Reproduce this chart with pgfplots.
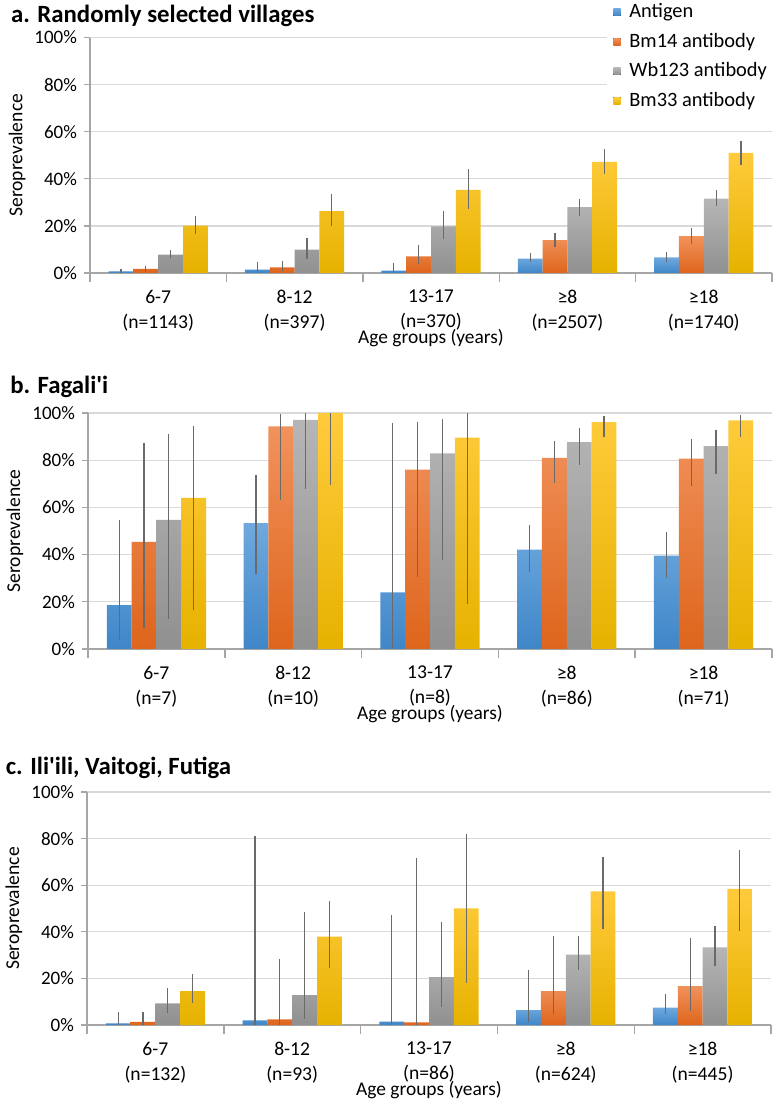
\documentclass[border=0pt]{standalone}
\usepackage{fontspec}
\setmainfont{Carlito}
\usepackage{pgfplots}
\usepackage{pgfplotstable}
\pgfplotsset{compat=1.18}

\definecolor{agT}{HTML}{6FA9DE}
\definecolor{agB}{HTML}{3F86C8}
\definecolor{bmT}{HTML}{F1925C}
\definecolor{bmB}{HTML}{DE651C}
\definecolor{wbT}{HTML}{B6B6B6}
\definecolor{wbB}{HTML}{909090}
\definecolor{btT}{HTML}{FFCB3C}
\definecolor{btB}{HTML}{E6B200}
\definecolor{ebc}{HTML}{6A6A6A}
\definecolor{gridc}{HTML}{D9D9D9}
\definecolor{axc}{HTML}{A6A6A6}

% panel a
\pgfplotstableread{
x ag agp agm bm bmp bmm wb wbp wbm bt btp btm
0 0.7 1.0 0.7 1.7 1.1 1.4 7.8 1.8 1.4 20.1 4.2 3.4
1 1.4 3.3 1.4 2.4 2.8 1.7 9.9 5.1 3.8 26.3 7.3 6.5
2 1.0 3.2 1.0 7.1 4.8 3.1 19.8 6.5 5.4 35.3 8.9 8.0
3 6.1 2.4 1.6 14.0 3.2 3.0 28.0 3.4 3.7 47.2 5.5 5.1
4 6.6 2.3 1.8 15.7 3.5 3.3 31.6 3.7 3.2 51.0 5.1 5.1
}\tabA
% panel b
\pgfplotstableread{
x ag agp agm bm bmp bmm wb wbp wbm bt btp btm
0 18.6 36.0 14.6 45.4 42.0 36.4 54.7 36.4 42.1 64.0 30.3 47.3
1 53.3 20.4 21.4 94.3 5.3 31.3 97.1 2.9 29.5 100.0 0.0 30.6
2 24.0 71.6 24.0 76.0 20.0 45.7 82.9 14.7 45.0 89.6 10.4 70.6
3 42.1 10.3 9.5 81.0 7.3 10.7 87.7 5.9 9.8 96.1 2.5 6.1
4 39.6 10.1 9.6 80.7 8.2 11.7 86.0 7.0 11.7 96.9 2.2 7.0
}\tabB
% panel c
\pgfplotstableread{
x ag agp agm bm bmp bmm wb wbp wbm bt btp btm
0 0.7 5.0 0.7 1.3 4.4 1.3 9.3 6.4 4.0 14.5 7.2 5.2
1 2.0 79.2 2.0 2.4 25.8 2.4 12.8 35.9 10.4 37.9 15.5 13.5
2 1.4 45.9 1.4 1.1 70.7 1.1 20.5 23.5 12.7 50.0 32.1 31.9
3 6.4 17.1 5.0 14.5 23.7 9.8 30.2 8.0 6.8 57.3 14.6 16.3
4 7.5 6.0 2.9 16.7 20.8 10.6 33.3 9.4 8.1 58.4 16.7 17.9
}\tabC

\pgfplotsset{
  panel/.style={
    scale only axis, width=340.5pt, height=117pt,
    ybar, bar width=12.4pt,
    xmin=-0.5, xmax=4.5, ymin=0, ymax=100,
    xtick={0,1,2,3,4},
    ytick={0,20,40,60,80,100},
    yticklabels={0\%,20\%,40\%,60\%,80\%,100\%},
    axis x line*=bottom, axis y line*=left,
    ymajorgrids, grid style={gridc, line width=0.6pt},
    axis line style={axc, line width=0.7pt},
    tick align=outside, major tick length=3pt,
    major x tick style={draw=none},
    major y tick style={draw=axc, line width=0.6pt},
    extra x ticks={-0.5,0.5,1.5,2.5,3.5,4.5},
    extra x tick labels={},
    extra x tick style={major x tick style={draw=axc, line width=0.7pt}, major tick length=4.5pt},
    xticklabel style={align=center, font=\fontsize{9.8}{12.5}\selectfont, yshift=-2pt},
    yticklabel style={font=\fontsize{9.5}{11}\selectfont},
    xlabel={Age groups (years)},
    xlabel style={at={(axis description cs:0.5,0)}, anchor=center, yshift=-32.5pt, font=\fontsize{9.7}{11}\selectfont},
    ylabel={Seroprevalence},
    ylabel style={at={(axis description cs:-0.107,0.5)}, anchor=center, font=\fontsize{9.8}{11}\selectfont},
    title style={anchor=west, yshift=-7.5pt, font=\bfseries\fontsize{12.4}{14}\selectfont},
    legend image code/.code={\fill[#1] (0pt,-1.8pt) rectangle (3.6pt,1.8pt); \path (6pt,0pt);},
  },
  errb/.style={draw=none, fill=none, forget plot,
    error bars/.cd, y dir=both, y explicit, error mark=none,
    error bar style={draw=ebc, line width=0.6pt}},
}

\newcommand\allbars[1]{%
  \addplot[bar shift=-18.6pt, draw=none, top color=agT, bottom color=agB] table[x=x,y=ag]{#1};
  \addplot[bar shift=-6.2pt, draw=none, top color=bmT, bottom color=bmB] table[x=x,y=bm]{#1};
  \addplot[bar shift=6.2pt, draw=none, top color=wbT, bottom color=wbB] table[x=x,y=wb]{#1};
  \addplot[bar shift=18.6pt, draw=none, top color=btT, bottom color=btB] table[x=x,y=bt]{#1};
  \addplot[bar shift=-18.6pt, errb] table[x=x,y=ag,y error plus=agp,y error minus=agm]{#1};
  \addplot[bar shift=-6.2pt, errb] table[x=x,y=bm,y error plus=bmp,y error minus=bmm]{#1};
  \addplot[bar shift=6.2pt, errb] table[x=x,y=wb,y error plus=wbp,y error minus=wbm]{#1};
  \addplot[bar shift=18.6pt, errb] table[x=x,y=bt,y error plus=btp,y error minus=btm]{#1};
}

\begin{document}
\begin{tikzpicture}
\useasboundingbox (0,0) rectangle (386pt,551.5pt);

\begin{axis}[panel, at={(45pt,415pt)}, anchor=south west, width=341pt, height=117.7pt,
  title={a. Randomly selected villages},
  title style={at={(axis description cs:-0.126,1.106)}},
  xticklabels={6-7\\(n=1143),8-12\\(n=397),13-17\\(n=370),≥8\\(n=2507),≥18\\(n=1740)},
  legend style={at={(axis description cs:0.758,1.18)}, anchor=north west, draw=none, fill=white,
    font=\fontsize{10.2}{11.2}\selectfont, row sep=2.2pt, legend cell align=left},
]
\allbars{\tabA}
\legend{Antigen,Bm14 antibody,Wb123 antibody,Bm33 antibody}
\end{axis}

\begin{axis}[panel, at={(44pt,227pt)}, anchor=south west, width=342pt, height=118pt,
  title={b. Fagali\textquotesingle i},
  title style={at={(axis description cs:-0.124,1.122)}},
  xticklabels={6-7\\(n=7),8-12\\(n=10),13-17\\(n=8),≥8\\(n=86),≥18\\(n=71)},
]
\allbars{\tabB}
\end{axis}

\begin{axis}[panel, at={(43.5pt,39pt)}, anchor=south west, width=342pt, height=116.5pt,
  title={c. Ili\textquotesingle ili,  Vaitogi, Futiga},
  title style={at={(axis description cs:-0.129,1.116)}},
  xticklabels={6-7\\(n=132),8-12\\(n=93),13-17\\(n=86),≥8\\(n=624),≥18\\(n=445)},
]
\allbars{\tabC}
\end{axis}
\end{tikzpicture}
\end{document}
